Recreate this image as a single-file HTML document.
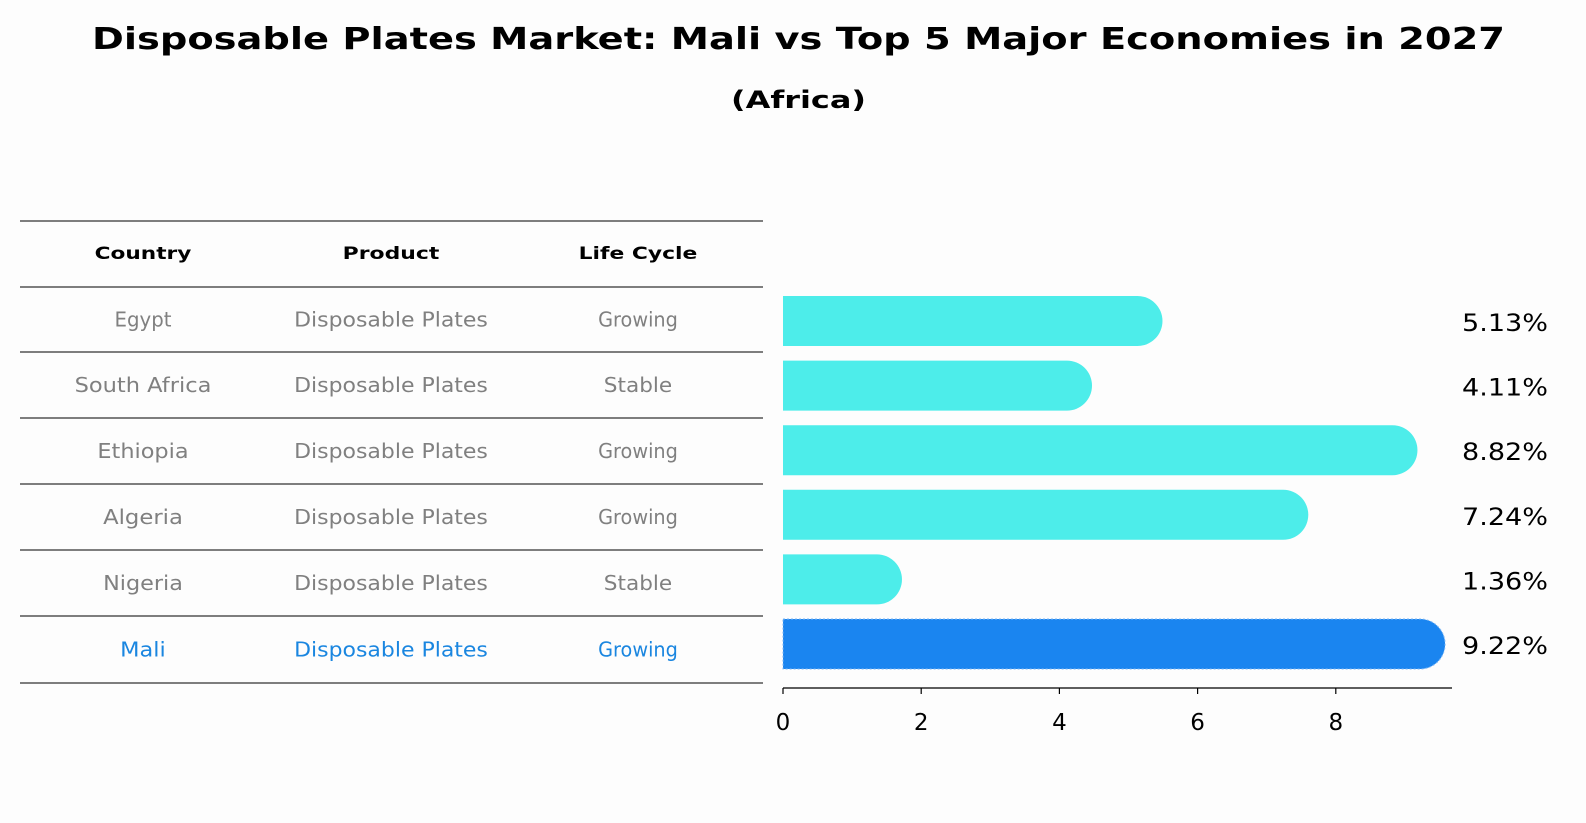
<!DOCTYPE html>
<html><head><meta charset="utf-8"><style>
html,body{margin:0;padding:0;overflow:hidden;background:#fdfdfd;width:1586px;height:823px;}
svg{display:block;font-family:"DejaVu Sans","Liberation Sans",sans-serif;}
</style></head><body>
<svg id="chart" width="1586" height="823" viewBox="0 0 1586 823">
<rect width="1586" height="823" fill="#fdfdfd"/>
<text x="92" y="49" font-size="30" font-weight="bold" fill="#000" textLength="1413" lengthAdjust="spacingAndGlyphs">Disposable Plates Market: Mali vs Top 5 Major Economies in 2027</text>
<text x="731" y="108" font-size="24" font-weight="bold" fill="#000" textLength="135" lengthAdjust="spacingAndGlyphs">(Africa)</text>
<g id="table"></g>
<g id="bars"></g>
</svg>
<script>
const countries=["Egypt","South Africa","Ethiopia","Algeria","Nigeria","Mali"];
const products=["Disposable Plates","Disposable Plates","Disposable Plates","Disposable Plates","Disposable Plates","Disposable Plates"];
const lifeCycles=["Growing","Stable","Growing","Growing","Stable","Growing"];
const values=[5.13,4.11,8.82,7.24,1.36,9.22];
const xTicks=[0,2,4,6,8];
const NS="http://www.w3.org/2000/svg";
function mk(tag,attrs,parent,text){const e=document.createElementNS(NS,tag);for(const k in attrs)e.setAttribute(k,attrs[k]);if(text!==undefined)e.textContent=text;parent.appendChild(e);return e;}
const charW=11.4;
const table=document.getElementById('table');
const lineYs=[221,287,352,418,484,550,616,683];
const colX=[143,391,638];
lineYs.forEach((y,i)=>{const l=mk('line',{x1:20,x2:763,y1:y,y2:y,stroke:'#000','stroke-width':1},table);

});
["Country","Product","Life Cycle"].forEach((h,i)=>{const t=mk('text',{x:colX[i],y:259,'text-anchor':'middle','font-size':17,'font-weight':'bold',fill:'#000',textLength:h.length*13.8*(h==='Life Cycle'?0.86:1),lengthAdjust:'spacingAndGlyphs'},table,h);

});
countries.forEach((c,i)=>{const y=(lineYs[i+1]+lineYs[i+2])/2+7;const col=i===countries.length-1?'#1a86e0':'#808080';
[c,products[i],lifeCycles[i]].forEach((v,j)=>{const t=mk('text',{x:colX[j],y:y,'text-anchor':'middle','font-size':20,fill:col,textLength:v.length*charW,lengthAdjust:'spacingAndGlyphs'},table,v);

});});
const bars=document.getElementById('bars');
const x0=783,pxPerUnit=69.1;
const xs=v=>x0+v*pxPerUnit;
const yc=i=>321+i*64.6;
const bh=50;
values.forEach((v,i)=>{const mali=i===values.length-1;const col=mali?'#1a85f0':'#4dedea';
const g=mk('g',{},bars);


const xe=xs(v);const y=yc(i);
mk('path',{d:`M${x0},${y-bh/2} L${xe},${y-bh/2} A${bh/2},${bh/2} 0 0 1 ${xe},${y+bh/2} L${x0},${y+bh/2} Z`,fill:col,stroke:mali?'#7fb8f5':'none','stroke-dasharray':'2,2','stroke-width':1},g);
const t=mk('text',{x:1462,y:y+10,'font-size':24,fill:'#000',textLength:86,lengthAdjust:'spacingAndGlyphs'},bars,v.toFixed(2)+'%');

});
const ax=mk('line',{x1:x0,x2:1452,y1:688,y2:688,stroke:'#000','stroke-width':1.2},bars);


xTicks.forEach(t=>{const x=xs(t);mk('line',{x1:x,x2:x,y1:688,y2:694,stroke:'#000','stroke-width':1.2},bars);
const tl=mk('text',{x:x,y:730,'text-anchor':'middle','font-size':23,fill:'#000'},bars,String(t));

});
</script>
</body></html>
